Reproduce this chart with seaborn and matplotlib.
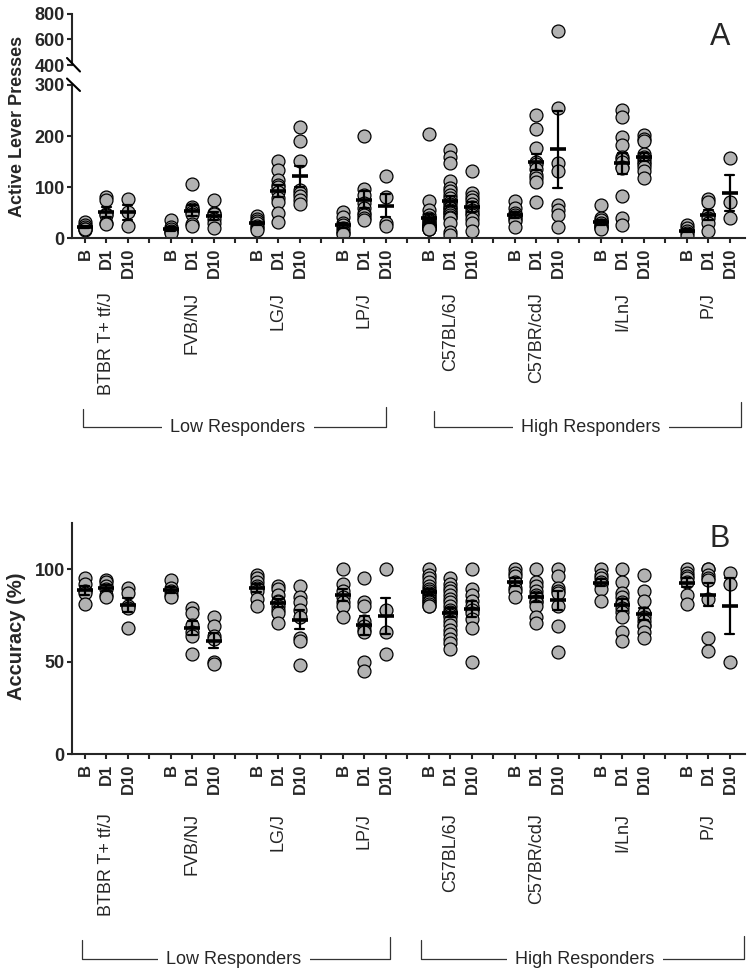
import numpy as np
import pandas as pd
import matplotlib
matplotlib.use("Agg")
import matplotlib.pyplot as plt
import matplotlib.transforms as mtransforms
from matplotlib.lines import Line2D
import seaborn as sns

# ---------------- data ----------------
strains = ["BTBR T+ tf/J", "FVB/NJ", "LG/J", "LP/J",
           "C57BL/6J", "C57BR/cdJ", "I/LnJ", "P/J"]
sessions = ["B", "D1", "D10"]
groups = ["Low Responders", "High Responders"]

# Active lever presses
presses_btbr = {"B": [31, 27, 22, 19, 16, 18], "D1": [81, 75, 48, 45, 30, 28], "D10": [77, 51, 25]}
presses_fvb = {"B": [35, 23, 18, 15, 12, 10], "D1": [107, 62, 57, 52, 48, 28, 25], "D10": [75, 50, 47, 38, 30, 20]}
presses_lg = {"B": [43, 38, 33, 29, 25, 20, 17], "D1": [152, 134, 114, 105, 100, 91, 78, 72, 49, 31],
              "D10": [218, 191, 152, 94, 88, 83, 75, 68]}
presses_lp = {"B": [52, 42, 30, 26, 20, 15, 10, 8], "D1": [200, 97, 85, 70, 60, 50, 45, 40, 36], "D10": [121, 80, 30, 25]}
presses_c57bl = {"B": [204, 73, 55, 46, 40, 36, 33, 30, 28, 26, 25, 24, 23, 22, 21, 20, 20, 19, 18, 18],
                 "D1": [173, 160, 147, 112, 98, 92, 85, 78, 72, 68, 62, 59, 55, 52, 49, 45, 42, 39, 30, 13, 6],
                 "D10": [132, 88, 80, 75, 68, 62, 55, 49, 45, 38, 29, 14]}
presses_c57br = {"B": [73, 59, 50, 46, 42, 38, 33, 23], "D1": [242, 214, 176, 150, 145, 135, 124, 118, 111, 72],
                 "D10": [670, 255, 147, 131, 65, 55, 45, 23]}
presses_iln = {"B": [65, 40, 35, 30, 27, 25, 22, 20, 18],
               "D1": [251, 238, 199, 183, 160, 155, 150, 140, 137, 82, 39, 26],
               "D10": [202, 195, 190, 165, 160, 155, 150, 145, 140, 131, 118]}
presses_pj = {"B": [27, 20, 14, 10, 5], "D1": [77, 72, 45, 40, 30, 15], "D10": [157, 71, 39]}

# Accuracy (%)
acc_btbr = {"B": [95, 92, 88, 87, 81], "D1": [94, 93, 91, 89, 86, 85], "D10": [90, 87, 80, 79, 68]}
acc_fvb = {"B": [94, 90, 88, 86, 85], "D1": [79, 76, 70, 66, 64, 54], "D10": [74, 69, 64, 62, 50, 49]}
acc_lg = {"B": [97, 95, 93, 91, 90, 88, 84, 80], "D1": [91, 89, 86, 83, 82, 80, 78, 76, 71],
          "D10": [91, 85, 82, 78, 74, 63, 61, 48]}
acc_lp = {"B": [100, 92, 88, 85, 82, 80, 74], "D1": [95, 82, 80, 72, 69, 67, 66, 50, 45], "D10": [100, 78, 66, 54]}
acc_c57bl = {"B": [100, 97, 95, 93, 91, 89, 88, 87, 86, 85, 84, 83, 82, 81, 80, 80],
             "D1": [95, 92, 90, 88, 86, 84, 82, 80, 78, 77, 76, 75, 74, 72, 70, 67, 65, 62, 60, 57],
             "D10": [100, 89, 86, 83, 80, 78, 76, 73, 68, 50]}
acc_c57br = {"B": [100, 98, 96, 93, 90, 88, 85], "D1": [100, 93, 91, 88, 86, 85, 83, 82, 80, 74, 71],
             "D10": [100, 96, 90, 88, 87, 80, 69, 55]}
acc_iln = {"B": [100, 97, 95, 93, 92, 89, 83], "D1": [100, 93, 87, 85, 82, 81, 79, 77, 74, 66, 61],
           "D10": [97, 88, 83, 76, 74, 72, 70, 69, 66, 63]}
acc_pj = {"B": [100, 98, 96, 95, 93, 86, 81], "D1": [100, 100, 97, 95, 94, 84, 63, 56], "D10": [98, 92, 50]}

presses_all = [presses_btbr, presses_fvb, presses_lg, presses_lp,
               presses_c57bl, presses_c57br, presses_iln, presses_pj]
acc_all = [acc_btbr, acc_fvb, acc_lg, acc_lp, acc_c57bl, acc_c57br, acc_iln, acc_pj]


def to_frame(series):
    rows = []
    for i, d in enumerate(series):
        for j, s in enumerate(sessions):
            for v in d[s]:
                rows.append({"pos": 4 * i + j, "value": v})
    return pd.DataFrame(rows)


df_presses = to_frame(presses_all)
df_acc = to_frame(acc_all)

# ---------------- style ----------------
sns.set_theme(style="ticks")
plt.rcParams["font.family"] = ["Liberation Sans", "DejaVu Sans"]
plt.rcParams["axes.linewidth"] = 1.5

FILL = "#b2b2b2"
W, H = 754, 977
fig = plt.figure(figsize=(W / 100, H / 100), dpi=100)


def px_axes(x0, y0, x1, y1):
    return fig.add_axes([x0 / W, 1 - y1 / H, (x1 - x0) / W, (y1 - y0) / H])


XL, XR = 72, 745
ax_hi = px_axes(XL, 14, XR, 65)
ax_lo = px_axes(XL, 85, XR, 238.3)
ax_b = px_axes(XL, 522.7, XR, 754.3)


def draw(ax, df):
    sns.stripplot(data=df, x="pos", y="value", native_scale=True, jitter=False,
                  size=9.3, color=FILL, edgecolor="black", linewidth=0.9,
                  ax=ax, zorder=2, clip_on=True)
    sns.pointplot(data=df, x="pos", y="value", native_scale=True, errorbar="se",
                  capsize=0.42, color="black", markers="_", linestyle="none",
                  markersize=11, markeredgewidth=2.6,
                  err_kws={"linewidth": 1.6, "zorder": 4}, ax=ax, zorder=5)
    ax.set_xlabel("")
    ax.set_ylabel("")
    ax.set_xlim(-0.6, 30.7)


tick_pos, tick_lab = [], []
for i in range(len(strains)):
    for j, s in enumerate(sessions):
        tick_pos.append(4 * i + j)
        tick_lab.append(s)
    if i < len(strains) - 1:
        tick_pos.append(4 * i + 3)
        tick_lab.append("")

for ax, df in [(ax_hi, df_presses), (ax_lo, df_presses), (ax_b, df_acc)]:
    draw(ax, df)
    sns.despine(ax=ax)
    ax.tick_params(axis="both", direction="out", length=3.8, width=1.5, pad=1.5,
                   labelsize=12)

ax_hi.set_ylim(400, 800)
ax_hi.set_yticks([400, 600, 800])
ax_hi.spines["bottom"].set_visible(False)
ax_hi.set_xticks([])
ax_lo.set_ylim(0, 300)
ax_lo.set_yticks([0, 100, 200, 300])
ax_b.set_ylim(0, 125)
ax_b.set_yticks([0, 50, 100])

for ax in (ax_hi, ax_lo, ax_b):
    for lab in ax.get_yticklabels():
        lab.set_fontweight("bold")
        lab.set_fontsize(13)

for ax in (ax_lo, ax_b):
    ax.set_xticks(tick_pos)
    ax.set_xticklabels(tick_lab, rotation=90, fontweight="bold", fontsize=12)
    ax.tick_params(axis="x", pad=3)

# broken-axis slashes (figure pixels)
for (xa, ya, xb, yb) in [(67, 58, 80, 71.5), (67, 78.5, 80, 91)]:
    fig.add_artist(Line2D([xa / W, xb / W], [1 - ya / H, 1 - yb / H],
                          color="black", linewidth=1.5, transform=fig.transFigure))

# axis titles
fig.text(18 / W, 1 - 126 / H, "Active Lever Presses", rotation=90, ha="center",
         va="center", fontsize=13, fontweight="bold")
fig.text(17 / W, 1 - 636 / H, "Accuracy (%)", rotation=90, ha="center",
         va="center", fontsize=14.5, fontweight="bold")
fig.text(720 / W, 1 - 45 / H, "A", ha="center", va="baseline", fontsize=22)
fig.text(720 / W, 1 - 547 / H, "B", ha="center", va="baseline", fontsize=22)

# strain labels
for ax, ytop in [(ax_lo, 292), (ax_b, 813)]:
    tr = mtransforms.blended_transform_factory(ax.transData, fig.transFigure)
    for i, s in enumerate(strains):
        ax.text(4 * i + 1, 1 - ytop / H, s, transform=tr, rotation=90,
                ha="center", va="top", fontsize=13, clip_on=False)


# responder brackets (figure pixels)
def bracket(x0, x1, y, yl, yr, text, xc):
    c = "#333333"
    fig.add_artist(Line2D([x0 / W, x0 / W, x1 / W, x1 / W],
                          [1 - yl / H, 1 - y / H, 1 - y / H, 1 - yr / H],
                          color=c, linewidth=0.9, transform=fig.transFigure))
    fig.text(xc / W, 1 - y / H, text, ha="center", va="center", fontsize=13,
             bbox=dict(facecolor="white", edgecolor="none", pad=6))


bracket(83, 386, 427, 409, 407, groups[0], 238)
bracket(434, 741, 427, 411, 402, groups[1], 591)
bracket(82, 390, 959, 940, 937, groups[0], 234)
bracket(421, 744, 959, 940, 936, groups[1], 585)

fig.savefig("out.png", dpi=100)
